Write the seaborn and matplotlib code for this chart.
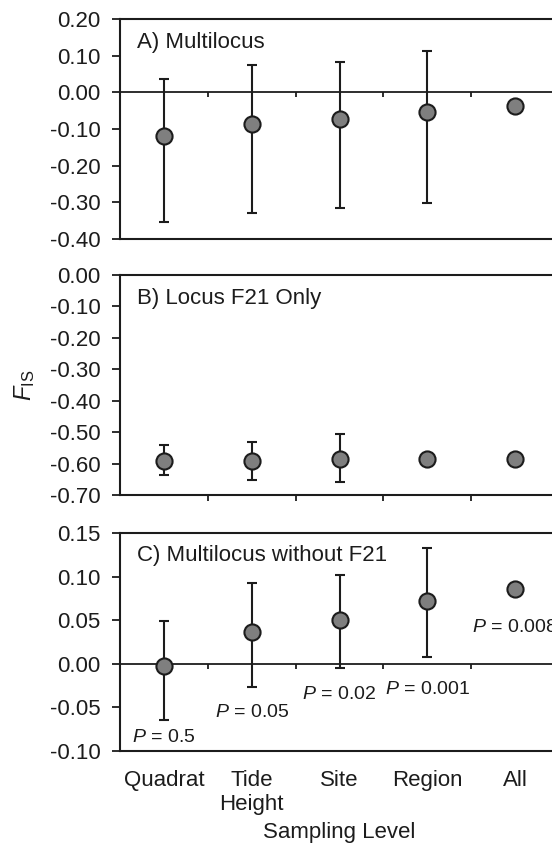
import numpy as np
import matplotlib
matplotlib.use("Agg")
import matplotlib.pyplot as plt
import seaborn as sns

# ---- data ----
categories = ["Quadrat", "Tide\nHeight", "Site", "Region", "All"]

fis_multi = [-0.120, -0.087, -0.074, -0.053, -0.038]
multi_lo = [-0.355, -0.330, -0.315, -0.302, np.nan]
multi_hi = [0.035, 0.074, 0.084, 0.112, np.nan]

fis_f21 = [-0.592, -0.592, -0.587, -0.587, -0.584]
f21_lo = [-0.637, -0.652, -0.659, np.nan, np.nan]
f21_hi = [-0.541, -0.531, -0.507, np.nan, np.nan]

fis_nof21 = [-0.002, 0.037, 0.050, 0.072, 0.086]
nof21_lo = [-0.064, -0.027, -0.005, 0.008, np.nan]
nof21_hi = [0.049, 0.093, 0.102, 0.133, np.nan]

p_values = ["0.5", "0.05", "0.02", "0.001", "0.008"]
p_label_y = [-0.085, -0.056, -0.035, -0.029, 0.042]

panel_titles = ["A) Multilocus", "B) Locus F21 Only", "C) Multilocus without F21"]
ylims = [(-0.40, 0.20), (-0.70, 0.00), (-0.10, 0.15)]
ysteps = [0.10, 0.10, 0.05]

# ---- style ----
sns.set_style("white")
plt.rcParams["font.family"] = ["Liberation Sans", "DejaVu Sans"]
plt.rcParams["mathtext.fontset"] = "custom"
plt.rcParams["mathtext.rm"] = "Liberation Sans"
plt.rcParams["mathtext.it"] = "Liberation Sans:italic"
plt.rcParams["mathtext.bf"] = "Liberation Sans:bold"

INK = "#1c1c1c"
FS = 16
FS_P = 14
W, H = 552, 846
fig = plt.figure(figsize=(W / 100, H / 100), dpi=100)

left_px, right_px = 120, 559
panels_px = [(19, 239), (275, 495), (533, 751)]

series = [
    (fis_multi, multi_lo, multi_hi),
    (fis_f21, f21_lo, f21_hi),
    (fis_nof21, nof21_lo, nof21_hi),
]

x = np.arange(len(categories))
axes = []
for i, ((top, bot), (vals, lo, hi)) in enumerate(zip(panels_px, series)):
    ax = fig.add_axes([left_px / W, 1 - bot / H, (right_px - left_px) / W, (bot - top) / H])
    axes.append(ax)
    ymin, ymax = ylims[i]
    ax.set_xlim(-0.5, len(categories) - 0.5)
    ax.set_ylim(ymin, ymax)

    vals = np.asarray(vals, float)
    lo = np.asarray(lo, float)
    hi = np.asarray(hi, float)
    m = ~np.isnan(lo)
    ax.errorbar(x[m], vals[m], yerr=[vals[m] - lo[m], hi[m] - vals[m]], fmt="none",
                ecolor=INK, elinewidth=1.5, capsize=3.6, capthick=1.5, zorder=2)
    sns.scatterplot(x=x, y=vals, ax=ax, s=135, color="#7f7f7f", edgecolor=INK,
                    linewidth=1.5, zorder=3, legend=False)

    for s in ax.spines.values():
        s.set_color(INK)
        s.set_linewidth(1.5)

    ticks = np.round(np.arange(ymin, ymax + 1e-9, ysteps[i]), 3)
    ax.set_yticks(ticks)
    ax.set_yticklabels([f"{t:.2f}" if abs(t) > 1e-9 else "0.00" for t in ticks],
                       fontsize=FS, color=INK)
    ax.tick_params(axis="y", direction="out", length=5.5, width=1.3, color=INK, pad=8.5, left=True)

    ax.set_xticks(x)
    if i == 2:
        ax.set_xticklabels(categories, fontsize=FS, color=INK, va="top", linespacing=1.2)
    else:
        ax.set_xticklabels([])
    ax.tick_params(axis="x", which="major", length=0, pad=13.5)

    bounds = x[:-1] + 0.5
    if i == 1:
        ax.set_xticks(np.append(bounds, x[-1] + 0.5), minor=True)
        ax.tick_params(axis="x", which="minor", direction="out", length=4, width=1.3,
                       color=INK, bottom=True)
    else:
        ax.axhline(0, color=INK, lw=1.3, zorder=1)
        tick_len = 5 / (bot - top) * (ymax - ymin)
        ax.vlines(bounds, -tick_len, 0, color=INK, lw=1.3, zorder=1)

    ax.text(17 / (right_px - left_px), 0.895, panel_titles[i], transform=ax.transAxes,
            fontsize=FS, color=INK, va="center", ha="left")
    ax.set_xlabel("")
    ax.set_ylabel("")

# P labels in panel C
axc = axes[2]
for xi, p, py in zip(x, p_values, p_label_y):
    axc.text(xi, py, r"$\mathit{P}$ = " + p, fontsize=FS_P, color=INK, ha="center", va="center")

fig.text(25 / W, 1 - 385 / H, r"$\mathit{F}_{\mathrm{IS}}$", rotation=90, fontsize=FS + 1,
         color=INK, ha="center", va="center")
fig.text((left_px + right_px) / 2 / W, 1 - 832 / H, "Sampling Level", fontsize=FS,
         color=INK, ha="center", va="center")

fig.savefig("out.png", dpi=100)
